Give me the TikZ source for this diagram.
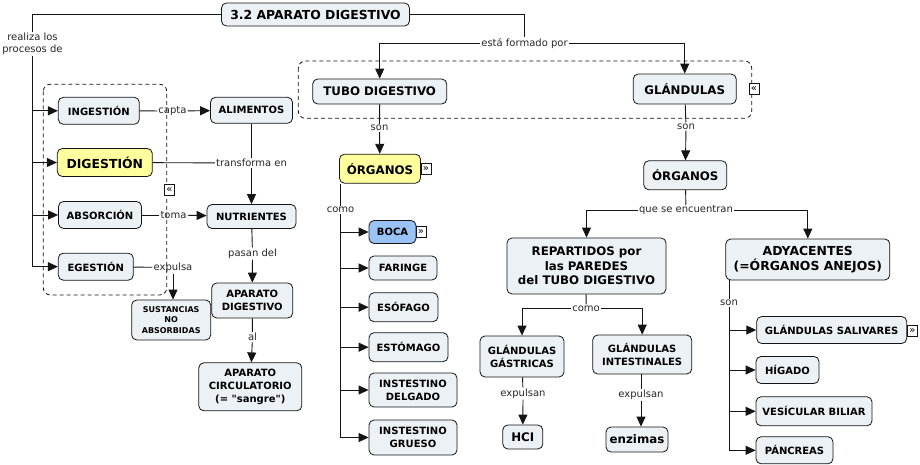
\documentclass[tikz,border=0pt]{standalone}
\usepackage{fontspec}
\setmainfont{DejaVu Sans}[Ligatures=TeXOff]
\usetikzlibrary{arrows.meta}
\definecolor{cfill}{RGB}{236,241,245}
\definecolor{cyellow}{RGB}{255,255,157}
\definecolor{cblue}{RGB}{153,195,245}
\definecolor{cline}{RGB}{20,20,20}

\begin{document}
\begin{tikzpicture}[x=1pt,y=-1pt]
\tikzset{concept/.style = {draw=cline, line width=0.8pt, rounded corners=5pt, fill=cfill, align=center, inner sep=2pt, font=\bfseries\fontsize{10}{13}\selectfont},
  big/.style = {font=\bfseries\fontsize{11.8}{14.5}\selectfont},
  bigger/.style = {font=\bfseries\fontsize{12.4}{14.5}\selectfont},
  wh/.style 2 args = {minimum width=#1pt, minimum height=#2pt},
  phrase/.style = {inner sep=1pt, text=black!85, align=center, font=\fontsize{10}{12}\selectfont},
  link/.style = {draw=cline, line width=0.9pt},
  arr/.style = {link, -{Triangle[length=10pt,width=9pt]}},
  group/.style = {draw=cline, line width=0.8pt, dash pattern=on 4pt off 3pt, rounded corners=7pt},
  icon/.style = {draw=cline, line width=0.6pt, fill=white, inner sep=0pt, minimum width=10pt, minimum height=11pt, font=\fontsize{10}{10}\selectfont}}
\useasboundingbox (0,0) rectangle (920,465);
\draw[group] (43.3,84.3) rectangle (166.7,295);
\draw[group] (298.3,61) rectangle (751.7,118.3);

\node[concept,bigger,wh={188}{23}] (title) at (315.5,14.5) {3.2 APARATO DIGESTIVO};
\node[concept,wh={81}{27}] (ing) at (98.8,110.8) {INGESTIÓN};
\node[concept,bigger,fill=cyellow,wh={95}{28}] (dig) at (104.8,162.5) {DIGESTIÓN};
\node[concept,wh={83}{27}] (absor) at (100,215) {ABSORCIÓN};
\node[concept,wh={75}{27}] (egest) at (95.8,266.7) {EGESTIÓN};
\node[concept,wh={82}{26}] (alim) at (251.5,110.3) {ALIMENTOS};
\node[concept,wh={89}{24}] (nutr) at (251.5,216.5) {NUTRIENTES};
\node[concept,wh={81}{35}] (apdig) at (252.2,300.5) {APARATO\\DIGESTIVO};
\node[concept,wh={79}{40},font=\bfseries\fontsize{8}{10.5}\selectfont] (sust) at (171.2,320) {SUSTANCIAS\\NO\\ABSORBIDAS};
\node[concept,wh={103}{48}] (apcirc) at (250.3,386.8) {APARATO\\CIRCULATORIO\\(= "sangre")};
\node[concept,big,wh={134}{25}] (tubo) at (379.7,91.5) {TUBO DIGESTIVO};
\node[concept,big,wh={103}{30}] (gland) at (684.7,89) {GLÁNDULAS};
\node[concept,big,fill=cyellow,wh={81}{29}] (org1) at (380,168.7) {ÓRGANOS};
\node[concept,big,wh={83}{29}] (org2) at (685.3,175.3) {ÓRGANOS};
\node[concept,fill=cblue,wh={47}{23}] (boca) at (392.5,232) {BOCA};
\node[concept,wh={68}{24}] (faringe) at (403,268) {FARINGE};
\node[concept,wh={69}{29}] (esof) at (403.5,307.2) {ESÓFAGO};
\node[concept,wh={79}{29}] (estom) at (408.5,347.2) {ESTÓMAGO};
\node[concept,wh={88}{34}] (delgado) at (413,390) {INSTESTINO\\DELGADO};
\node[concept,wh={88}{35}] (grueso) at (413,437.5) {INSTESTINO\\GRUESO};
\node[concept,big,wh={159}{56}] (repart) at (586.5,266) {REPARTIDOS por\\las PAREDES\\del TUBO DIGESTIVO};
\node[concept,bigger,wh={164}{41}] (ady) at (807.8,259.5) {ADYACENTES\\(=ÓRGANOS ANEJOS)};
\node[concept,wh={84}{41}] (gast) at (522,356.5) {GLÁNDULAS\\GÁSTRICAS};
\node[concept,wh={99}{39}] (intest) at (642.2,354.5) {GLÁNDULAS\\INTESTINALES};
\node[concept,big,wh={40}{24}] (hcl) at (522.8,437) {HCI};
\node[concept,big,wh={62}{25}] (enz) at (637,439.5) {enzimas};
\node[concept,wh={150}{27}] (saliv) at (831.7,330) {GLÁNDULAS SALIVARES};
\node[concept,wh={63}{27}] (higado) at (787.5,370) {HÍGADO};
\node[concept,wh={116}{29}] (vesic) at (814,411.3) {VESÍCULAR BILIAR};
\node[concept,wh={77}{27}] (pancr) at (794.5,450.3) {PÁNCREAS};

\node[phrase] (lreal) at (32.5,44) {realiza los\\procesos de};
\node[phrase] (lform) at (524.5,43.5) {está formado por};
\node[phrase] (lcapta) at (172.5,111) {capta};
\node[phrase] (ltrans) at (251.5,163) {transforma en};
\node[phrase] (ltoma) at (173.5,215) {toma};
\node[phrase] (lexp) at (173,267.5) {expulsa};
\node[phrase] (lpasan) at (252.5,253.5) {pasan del};
\node[phrase] (lal) at (252.5,337) {al};
\node[phrase] (lson1) at (379.5,128) {son};
\node[phrase] (lson2) at (686,126.5) {son};
\node[phrase] (lcomo1) at (340.5,210) {como};
\node[phrase] (lque) at (686,210.5) {que se encuentran};
\node[phrase] (lcomo2) at (586,308.5) {como};
\node[phrase] (lexp1) at (523,393.5) {expulsan};
\node[phrase] (lexp2) at (641,395) {expulsan};
\node[phrase] (lson3) at (729,303) {son};

\node[icon] (i1) at (169.5,189.5) {«};
\node[icon] (i2) at (754,89) {«};
\node[icon] (i3) at (426,169) {»};
\node[icon] (i4) at (421,232) {»};
\node[icon] (i5) at (912.5,331) {»};

\draw[link] (title.west) -| (lreal.north);
\draw[link] (lreal.south) -- (lreal.south |- egest.west);
\foreach \c in {ing,dig,absor,egest} \draw[arr] (lreal.south |- \c.west) -- (\c.west);
\draw[link] (title.east) -| (lform.north);
\draw[arr] (lform.west) -| (tubo.north);
\draw[arr] (lform.east) -| (gland.north);
\draw[link] (ing) -- (lcapta);
\draw[arr] (lcapta) -- (alim);
\draw[link] (dig) -- (ltrans);
\draw[link] (alim) -- (ltrans);
\draw[arr] (ltrans) -- (nutr);
\draw[link] (absor) -- (ltoma);
\draw[arr] (ltoma) -- (nutr);
\draw[link] (egest) -- (lexp);
\draw[arr] (lexp.south) -- (lexp.south |- sust.north);
\draw[link] (nutr) -- (lpasan);
\draw[arr] (lpasan) -- (apdig);
\draw[link] (apdig) -- (lal);
\draw[arr] (lal) -- (apcirc);
\draw[link] (tubo) -- (lson1);
\draw[arr] (lson1) -- (org1);
\draw[link] (lcomo1.north |- org1.south) -- (lcomo1.north);
\draw[link] (lcomo1.south) -- (lcomo1.south |- grueso.west);
\foreach \c in {boca,faringe,esof,estom,delgado,grueso} \draw[arr] (lcomo1.south |- \c.west) -- (\c.west);
\draw[link] (gland) -- (lson2);
\draw[arr] (lson2) -- (org2);
\draw[link] (org2) -- (lque);
\draw[arr] (lque.west) -| (repart.north);
\draw[arr] (lque.east) -| (ady.north);
\draw[link] (repart) -- (lcomo2);
\draw[arr] (lcomo2.west) -| (gast.north);
\draw[arr] (lcomo2.east) -| (intest.north);
\draw[link] (gast) -- (lexp1);
\draw[arr] (lexp1) -- (hcl);
\draw[link] (lexp2.north |- intest.south) -- (lexp2.north);
\draw[arr] (lexp2.south) -- (lexp2.south |- enz.north);
\draw[link] (lson3.north |- ady.south) -- (lson3.north);
\draw[link] (lson3.south) -- (lson3.south |- pancr.west);
\foreach \c in {saliv,higado,vesic,pancr} \draw[arr] (lson3.south |- \c.west) -- (\c.west);
\end{tikzpicture}
\end{document}
